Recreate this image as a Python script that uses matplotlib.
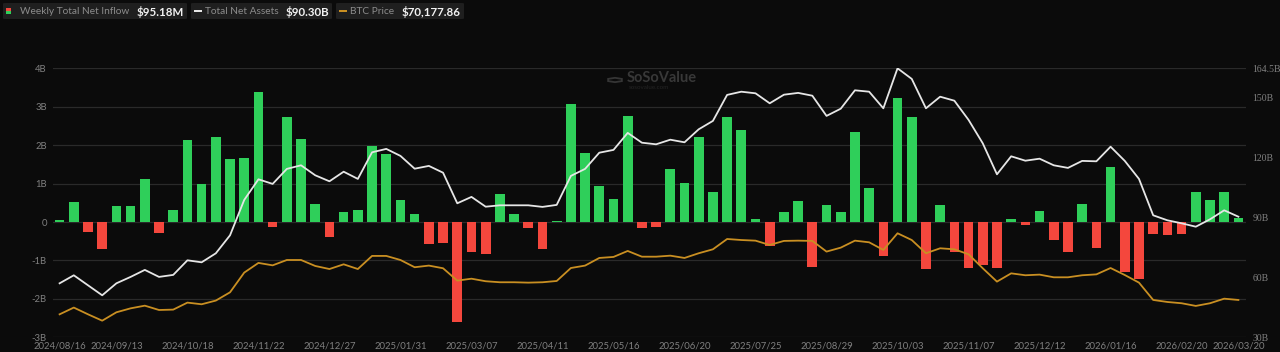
import matplotlib
matplotlib.use("Agg")
import matplotlib.pyplot as plt
from matplotlib.patches import FancyBboxPatch, Rectangle, RegularPolygon
import numpy as np
import pandas as pd

# ---------------- data ----------------
start_date = "2024-08-16"
n_weeks = 84
dates = pd.date_range(start_date, periods=n_weeks, freq="7D")
date_labels = [d.strftime("%Y/%m/%d") for d in dates]

# weekly total net inflow (billions USD)
net_inflow = [
    0.04, 0.51, -0.27, -0.70, 0.41, 0.41, 1.11, -0.29, 0.31, 2.13,
    1.00, 2.22, 1.64, 1.67, 3.38, -0.13, 2.73, 2.17, 0.46, -0.38,
    0.25, 0.31, 1.97, 1.76, 0.56, 0.21, -0.57, -0.55, -2.60, -0.79,
    -0.82, 0.74, 0.20, -0.16, -0.70, 0.03, 3.06, 1.80, 0.94, 0.61,
    2.75, -0.16, -0.13, 1.39, 1.02, 2.22, 0.77, 2.72, 2.39, 0.07,
    -0.63, 0.25, 0.55, -1.17, 0.44, 0.25, 2.35, 0.89, -0.89, 3.24,
    2.72, -1.22, 0.45, -0.79, -1.20, -1.11, -1.20, 0.07, -0.08, 0.29,
    -0.48, -0.78, 0.47, -0.68, 1.43, -1.31, -1.48, -0.31, -0.35, -0.31,
    0.79, 0.57, 0.77, 0.0952,
]

# total net assets (billions USD)
net_assets = [
    57.0, 61.0, 56.0, 51.0, 57.0, 60.2, 63.7, 60.2, 61.2, 68.5,
    67.5, 72.0, 81.0, 98.7, 109.0, 106.7, 114.2, 116.0, 111.0, 108.0,
    112.8, 109.2, 122.5, 124.2, 120.7, 114.3, 115.7, 112.3, 97.0, 100.2,
    95.3, 96.0, 96.0, 96.0, 95.2, 96.2, 110.7, 114.2, 122.3, 123.7,
    132.2, 127.3, 126.5, 128.8, 127.5, 134.0, 138.2, 151.2, 152.8, 152.0,
    147.0, 151.3, 152.2, 150.8, 140.7, 144.3, 153.5, 152.8, 144.5, 164.5,
    159.2, 144.5, 150.3, 148.3, 138.7, 127.0, 111.5, 120.5, 118.3, 119.3,
    116.0, 114.7, 118.2, 118.0, 125.3, 118.2, 109.2, 91.0, 88.5, 87.0,
    85.3, 89.0, 93.5, 90.30,
]

# BTC price (thousands USD)
btc_price = [
    58.9, 64.2, 58.9, 53.9, 60.5, 63.6, 65.7, 62.3, 62.6, 68.1,
    66.8, 69.7, 76.2, 91.7, 99.3, 97.4, 101.6, 101.6, 96.9, 94.5,
    98.2, 94.5, 104.8, 104.8, 101.6, 95.9, 97.2, 95.1, 85.4, 86.9,
    84.9, 84.1, 84.1, 83.8, 84.1, 85.1, 95.3, 97.2, 103.2, 104.0,
    108.7, 104.2, 104.2, 105.0, 103.2, 106.9, 110.0, 118.1, 117.3, 116.8,
    113.4, 116.6, 116.8, 116.6, 108.2, 111.3, 116.8, 115.5, 109.5, 122.6,
    117.3, 106.9, 110.8, 110.0, 106.1, 95.1, 84.6, 91.1, 89.6, 90.1,
    88.0, 88.0, 89.6, 90.3, 95.3, 89.8, 83.8, 70.2, 68.6, 67.6,
    65.5, 67.6, 71.2, 70.17786,
]

left_ticks = [-3, -2, -1, 0, 1, 2, 3, 4]
left_tick_labels = ["-3B", "-2B", "-1B", "0", "1B", "2B", "3B", "4B"]
right_ticks = [30, 60, 90, 120, 150, 164.5]
right_tick_labels = ["30B", "60B", "90B", "120B", "150B", "164.5B"]
xtick_idx = [0, 4, 9, 14, 19, 24, 29, 34, 39, 44, 49, 54, 59, 64, 69, 74, 79, 83]

legend_names = ["Weekly Total Net Inflow", "Total Net Assets", "BTC Price"]
legend_values = ["$95.18M", "$90.30B", "$70,177.86"]

# ---------------- style ----------------
BG = "#0b0b0b"
GREEN = "#2fcf5a"
RED = "#f4473d"
WHITE = "#e6e6e6"
ORANGE = "#c98f22"
GRID = "#2a2a2a"
TICK = "#808080"
FONT = ["Lato", "DejaVu Sans"]
plt.rcParams["font.family"] = FONT

W, H = 1280, 352
fig = plt.figure(figsize=(W / 100, H / 100), dpi=100, facecolor=BG)

def fx(x):
    return x / W

def fy(y):
    return 1 - y / H

ax_l, ax_r, ax_t, ax_b = 52.5, 1245.5, 68.3, 337.3
ax = fig.add_axes([fx(ax_l), fy(ax_b), fx(ax_r) - fx(ax_l), fy(ax_t) - fy(ax_b)])
ax.set_facecolor(BG)

x = np.arange(n_weeks)
vals = np.array(net_inflow)
colors = [GREEN if v >= 0 else RED for v in vals]
ax.bar(x, vals, width=0.68, color=colors, zorder=2)
ax.set_xlim(-0.5, n_weeks - 0.5)
ax.set_ylim(-3, 4)
ax.set_yticks(left_ticks)
ax.set_yticklabels(left_tick_labels)
ax.grid(axis="y", color=GRID, linewidth=0.9, zorder=0)
ax.set_axisbelow(True)
ax.set_xticks(xtick_idx)
ax.set_xticklabels([date_labels[i] for i in xtick_idx])
ax.tick_params(axis="both", length=0, colors=TICK, labelsize=6.8)
ax.tick_params(axis="x", pad=3)
ax.tick_params(axis="y", pad=4)
for s in ax.spines.values():
    s.set_visible(False)

# total net assets (right axis)
ax2 = ax.twinx()
ax2.plot(x, net_assets, color=WHITE, linewidth=1.3, zorder=3)
ax2.set_ylim(30, 164.5)
ax2.set_yticks(right_ticks)
ax2.set_yticklabels(right_tick_labels, fontfamily="Liberation Serif")
ax2.tick_params(axis="y", length=0, colors=TICK, labelsize=7, pad=5)
for s in ax2.spines.values():
    s.set_visible(False)

# BTC price (hidden axis)
ax3 = ax.twinx()
ax3.plot(x, btc_price, color=ORANGE, linewidth=1.3, zorder=3)
p_ref, y_ref, k = 70.18, 720, 0.262
ax3.set_ylim(p_ref - (832 - y_ref) * k, p_ref + (y_ref - 25) * k)
ax3.set_yticks([])
for s in ax3.spines.values():
    s.set_visible(False)

# ---------------- watermark ----------------
fig.patches.append(RegularPolygon((fx(615), fy(80)), numVertices=6, radius=0.0062,
                                  orientation=0, facecolor="none", edgecolor="#353535",
                                  linewidth=1.3, transform=fig.transFigure))
fig.text(fx(627), fy(78.5), "SoSoValue", color="#383838", fontsize=10.5,
         fontweight="bold", va="center", ha="left")
fig.text(fx(629), fy(87.5), "sosovalue.com", color="#242424", fontsize=4.5,
         va="center", ha="left")

# ---------------- legend ----------------
boxes = [(3, 187), (191, 332), (336, 464)]
box_top, box_bot = 3, 19
ymid = (box_top + box_bot) / 2 + 0.5
for (bx0, bx1), name, val, kind in zip(boxes, legend_names, legend_values, ["bar", "white", "orange"]):
    fig.patches.append(FancyBboxPatch((fx(bx0), fy(box_bot)), fx(bx1) - fx(bx0), fy(box_top) - fy(box_bot),
                                      boxstyle="round,pad=0,rounding_size=0.002",
                                      facecolor="#1f1f1f", edgecolor="none",
                                      transform=fig.transFigure))
    if kind == "bar":
        fig.patches.append(Rectangle((fx(6), fy(14)), fx(5), fy(11) - fy(14), facecolor=GREEN,
                                     edgecolor="none", transform=fig.transFigure))
        fig.patches.append(Rectangle((fx(6), fy(11)), fx(5), fy(8) - fy(11), facecolor=RED,
                                     edgecolor="none", transform=fig.transFigure))
        tx = 20
    else:
        col = WHITE if kind == "white" else ORANGE
        fig.patches.append(Rectangle((fx(bx0 + 3), fy(12)), fx(8), fy(10) - fy(12), facecolor=col,
                                     edgecolor="none", transform=fig.transFigure))
        tx = bx0 + 14
    fig.text(fx(tx), fy(ymid), name, color="#8c8c8c", fontsize=7.3, va="center", ha="left")
    fig.text(fx(bx1 - 3), fy(ymid), val, color="#f2f2f2", fontsize=8.3, fontweight="bold",
             va="center", ha="right")

fig.savefig("out.png", dpi=100, facecolor=BG)
